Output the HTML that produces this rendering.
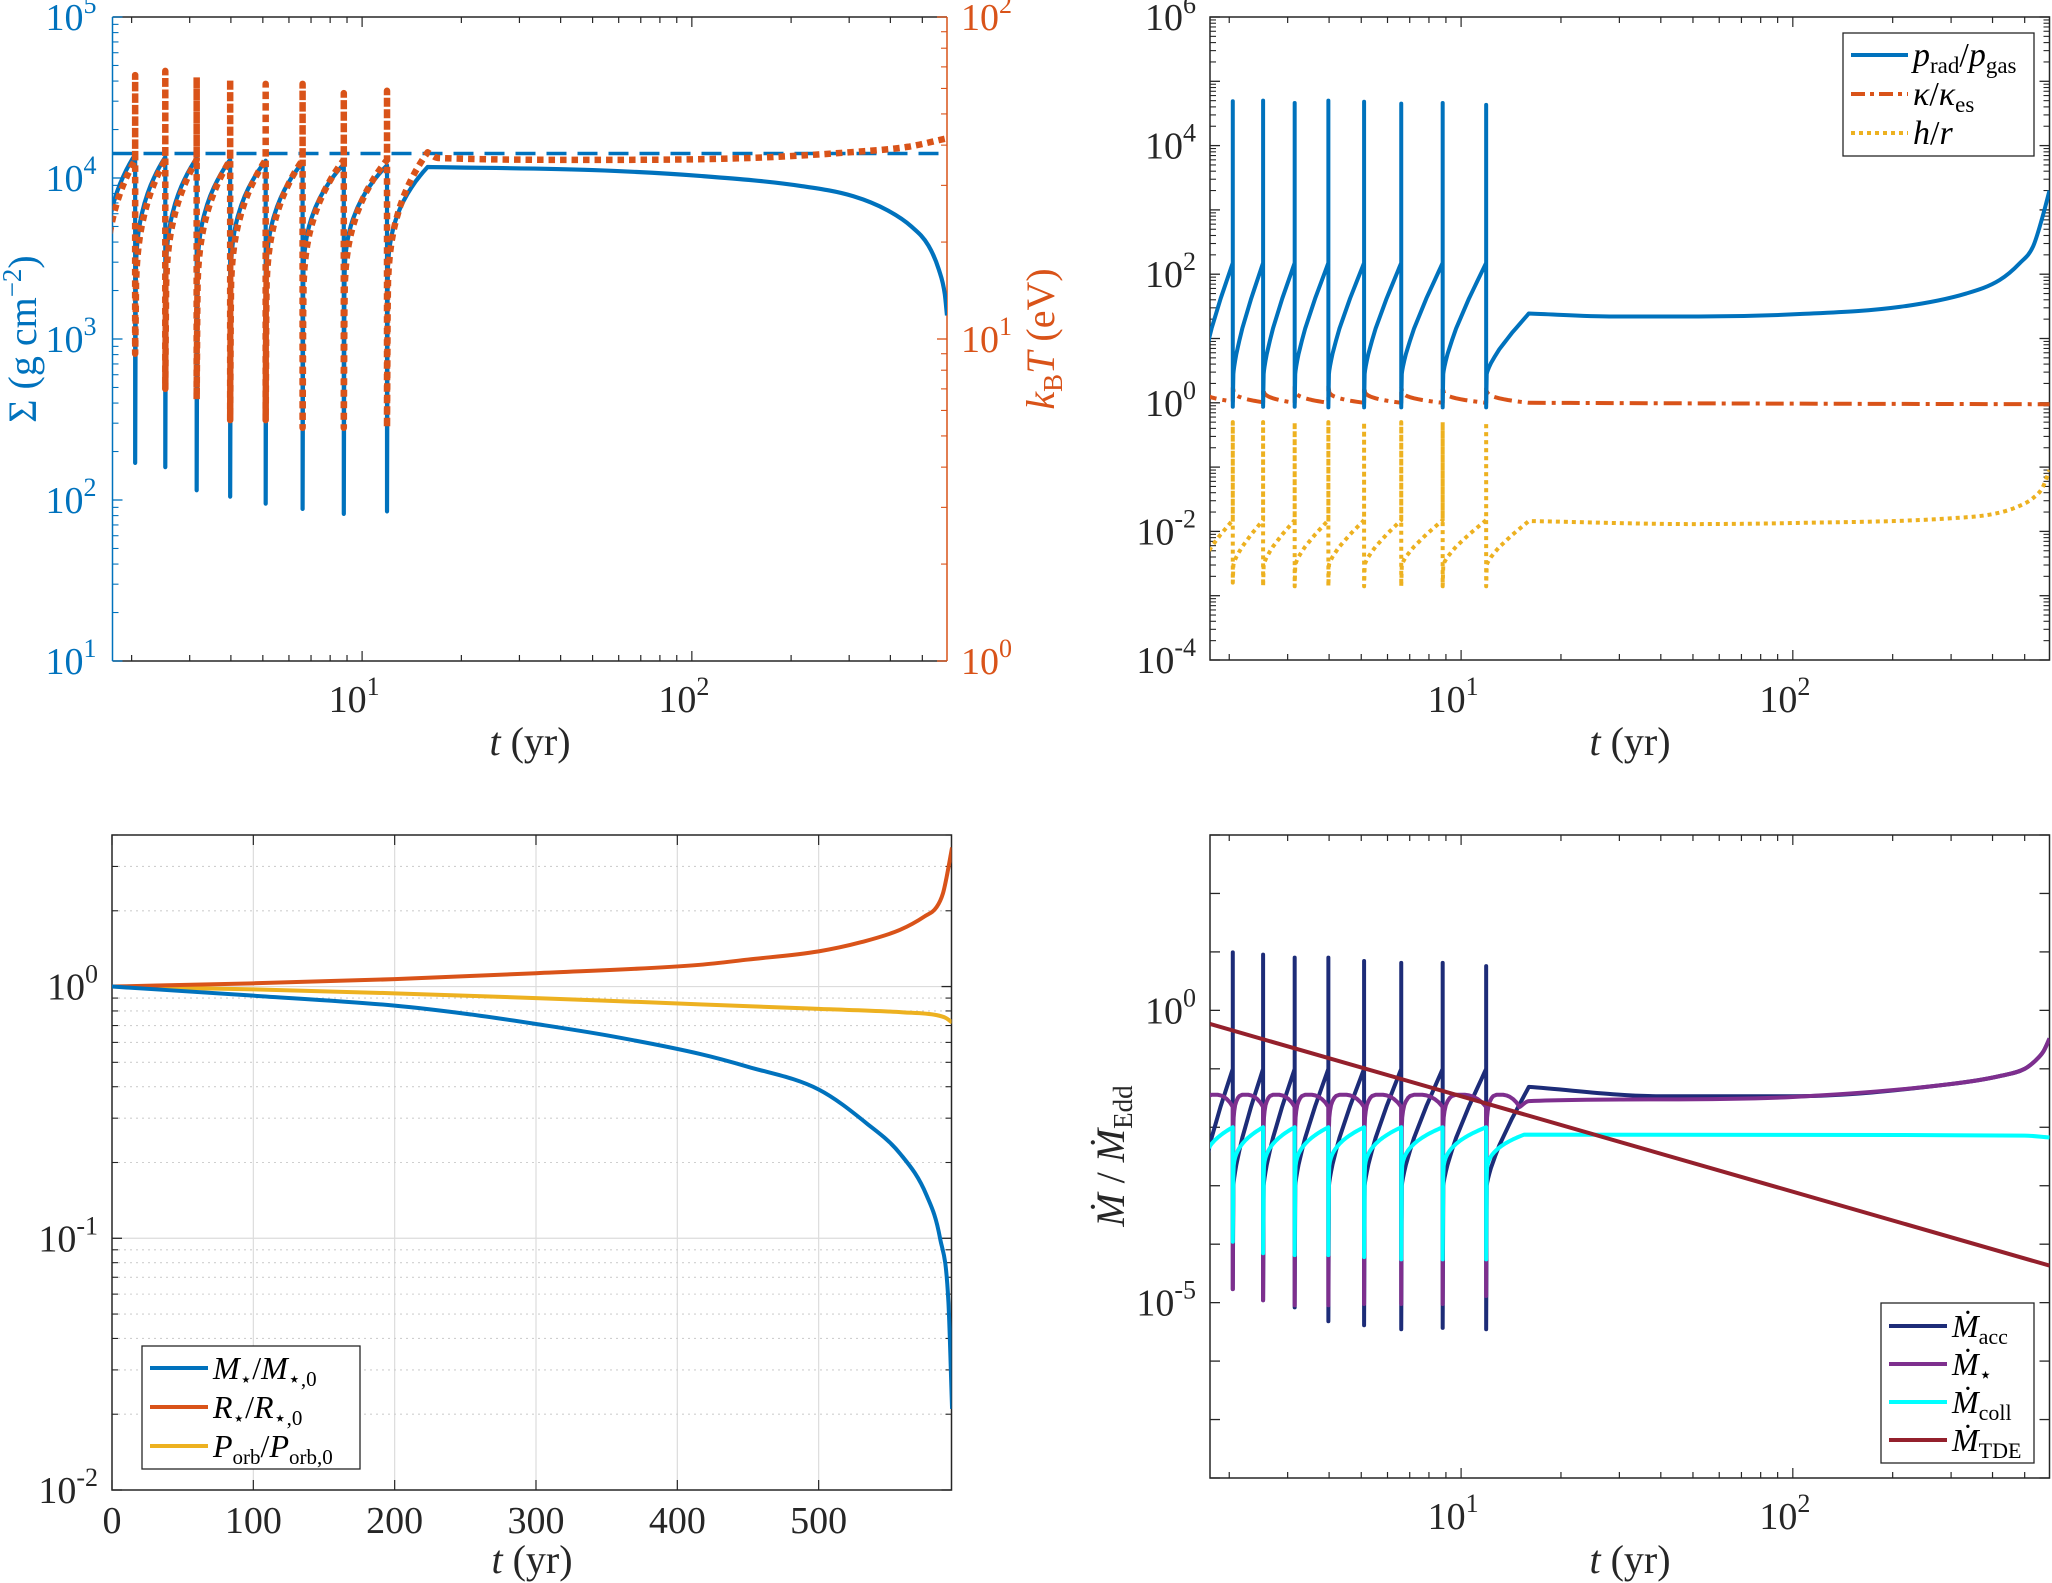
<!DOCTYPE html>
<html><head><meta charset="utf-8"><title>Disk and star evolution</title>
<style>
html,body{margin:0;padding:0;background:#fff;}
svg{display:block;font-family:"Liberation Serif","DejaVu Serif",serif;}
</style></head>
<body>
<svg id="chart" width="2052" height="1583" viewBox="0 0 2052 1583" xmlns="http://www.w3.org/2000/svg"></svg>
<script>
// ---------- data ----------
const spikeTimes = [2.05, 2.53, 3.15, 3.98, 5.1, 6.6, 8.8, 11.9];
const profU = [0,0.01,0.03,0.06,0.1,0.15,0.2,0.3,0.4,0.5,0.6,0.7,0.8,0.9,0.95,1];
const concaveF = [0,0.2,0.293,0.373,0.447,0.515,0.569,0.656,0.726,0.785,0.836,0.883,0.925,0.964,0.982,1];
const gradualF = [0,0.03,0.07,0.12,0.18,0.24,0.3,0.41,0.5,0.59,0.68,0.76,0.84,0.92,0.96,1];
const archF = [0,0.3,0.5,0.68,0.8,0.9,0.96,1,1,1,0.98,0.94,0.87,0.77,0.7,0.62];

// panel a: surface density and temperature
const sigmaLo = [2000,2000,2000,2000,2000,2000,2000,2000];
const sigmaHi = [14000,13500,13300,13000,12800,12500,12200,12000];
const sigmaMin = [170,160,115,105,95,88,82,85];
const sigmaTail = [[15.8,11700],[50,11200],[106,10300],[216,8900],[309,7700],[392,6300],[463,5000],[522,3800],[561,2700],[585,1900],[594,1400]];
const sigmaRef = [[1.75,14200],[594,14200]];
const tempLo = [12,12,12,12,12,12,12,12];
const tempHi = [36,36,36,36,36,36,36,36];
const tempSpike = [66,68,65,64,62,62,58,59];
const tempMin = [9.0,7.0,6.5,5.6,5.6,5.3,5.3,5.3];
const tempTail = [[15.8,38],[17,36.5],[50,36],[150,36.5],[300,38],[450,39.5],[594,42]];

// panel b: pressure ratio, opacity ratio, aspect ratio
const pradLo = [2.8,2.8,2.8,2.8,2.8,2.8,2.8,2.8];
const pradHi = [150,150,150,150,150,150,150,150];
const pradSpike = [49000,50000,46000,50000,48000,45000,46000,43000];
const pradMin = [0.87,0.87,0.87,0.85,0.85,0.85,0.85,0.85];
const pradTail = [[16,24.5],[29,22],[52,22],[105,24],[210,31],[333,50],[420,81],[483,148],[530,270],[566,780],[594,2000]];
const kapLo = [1.6,1.6,1.6,1.6,1.6,1.6,1.6,1.6];
const kapHi = [1.05,1.02,1.0,1.0,1.0,1.0,1.0,1.0];
const kapJump = [1.7,1.7,1.75,1.8,1.8,1.8,1.8,1.8];
const kapTail = [[16,1.0],[100,0.97],[600,0.95]];
const hrLo = [0.003,0.003,0.003,0.003,0.003,0.003,0.003,0.003];
const hrHi = [0.015,0.015,0.015,0.015,0.015,0.015,0.015,0.015];
const hrSpike = [0.5,0.5,0.5,0.5,0.5,0.5,0.5,0.5];
const hrMin = [0.0016,0.0014,0.0014,0.0014,0.0014,0.0014,0.0014,0.0014];
const hrTail = [[16,0.0145],[50,0.013],[100,0.0135],[300,0.016],[409,0.019],[483,0.025],[530,0.033],[566,0.048],[594,0.09]];

// panel c: stellar evolution (linear time)
const mT = [0,100,200,250,300,350,416,450,500,534,557.6,576.4,585.9,591.8,594.4];
const mV = [1,0.92,0.84,0.78,0.71,0.64,0.54,0.48,0.39,0.286,0.217,0.148,0.1,0.056,0.021];
const rT = [0,100,200,300,416,450,500,530,557.6,575,583.5,588,590.6,594.4];
const rV = [1,1.03,1.07,1.13,1.22,1.28,1.38,1.5,1.68,1.9,2.07,2.35,2.73,3.57];
const pT = [0,100,200,300,416,500,560,583.5,590,594.4];
const pV = [1,0.975,0.94,0.9,0.85,0.815,0.79,0.77,0.75,0.72];

// panel d: mass rates
const accLo = [0.001,0.001,0.001,0.001,0.001,0.001,0.001,0.001];
const accHi = [0.1,0.1,0.1,0.1,0.1,0.1,0.1,0.1];
const accSpike = [9.8,9,8,8,7,6.5,6.5,5.7];
const accMin = [1.7e-5,1.1e-5,8.3e-6,4.8e-6,4.1e-6,3.5e-6,3.7e-6,3.5e-6];
const accTail = [[16,0.049],[40,0.034],[100,0.034],[300,0.055],[420,0.075],[500,0.1],[540,0.14],[570,0.2],[594,0.33]];
const starLo = [0.01,0.01,0.01,0.01,0.01,0.01,0.01,0.01];
const starHi = [0.036,0.036,0.036,0.036,0.036,0.036,0.036,0.036];
const starMin = [1.7e-5,1.1e-5,9e-6,9e-6,9.5e-6,9.5e-6,9.5e-6,1.3e-5];
const starTail = [[15,0.036],[16,0.028],[40,0.03],[100,0.033],[300,0.055],[420,0.075],[500,0.1],[540,0.14],[570,0.2],[594,0.33]];
const collLo = [0.0015,0.0015,0.0015,0.0015,0.0015,0.0015,0.0015,0.0015];
const collHi = [0.01,0.01,0.01,0.01,0.01,0.01,0.01,0.01];
const collMin = [1.1e-4,7e-5,6.5e-5,6.5e-5,6e-5,5.5e-5,5.5e-5,5.5e-5];
const collTail = [[15.5,0.0075],[100,0.0074],[500,0.0072],[594,0.0067]];
const tdePts = [[1.75,0.585],[594,4.3e-5]];

// ---------- helpers ----------
const NS = 'http://www.w3.org/2000/svg';
const svg = document.getElementById('chart');
function mk(tag, attrs, parent){
  const e = document.createElementNS(NS, tag);
  for (const k in attrs) e.setAttribute(k, attrs[k]);
  (parent || svg).appendChild(e);
  return e;
}
const L = Math.log10;
function logScale(d0,d1,p0,p1){const a=L(d0),b=L(d1);return v=>p0+(L(v)-a)/(b-a)*(p1-p0);}
function linScale(d0,d1,p0,p1){return v=>p0+(v-d0)/(d1-d0)*(p1-p0);}

function buildCycle(lo, hi, spike, mins, prof, tail, loLast, hiLast){
  const pts = [];
  const T = spikeTimes, n = T.length;
  const tprev = T[0]*T[0]/T[1];
  function seg(a,b,l,h){
    for (let j=0;j<profU.length;j++){
      const t = a*Math.pow(b/a, profU[j]);
      pts.push([t, Math.pow(10, L(l)+(L(h)-L(l))*prof[j])]);
    }
  }
  for (let k=0;k<n;k++){
    const a = k===0 ? tprev : T[k-1]*1.004;
    seg(a, T[k], lo[k], hi[k]);
    if (spike) pts.push([T[k], spike[k]]);
    pts.push([T[k], mins[k]]);
  }
  seg(T[n-1]*1.004, tail[0][0], loLast, hiLast);
  const nCycle = pts.length;
  tail.slice(1).forEach(p=>pts.push(p));
  return {pts, nCycle};
}
// polyline up to smoothFrom, then monotone cubic (Fritsch-Carlson) through the rest
function pathD(pix, smoothFrom){
  let d = 'M'+pix[0][0].toFixed(2)+' '+pix[0][1].toFixed(2);
  const s0 = Math.max(0, Math.min(smoothFrom-1, pix.length-1));
  for (let i=1;i<=s0;i++) d += ' L'+pix[i][0].toFixed(2)+' '+pix[i][1].toFixed(2);
  const P = pix.slice(s0);
  const n = P.length;
  if (n < 2) return d;
  const dl = [], m = [];
  for (let i=0;i<n-1;i++){ const h=P[i+1][0]-P[i][0]; dl.push(h>0?(P[i+1][1]-P[i][1])/h:0); }
  m[0]=dl[0]; m[n-1]=dl[n-2];
  for (let i=1;i<n-1;i++){ m[i] = (dl[i-1]*dl[i]<=0)?0:(dl[i-1]+dl[i])/2; }
  for (let i=0;i<n-1;i++){
    if (dl[i]===0){ m[i]=0; m[i+1]=0; continue; }
    const a=m[i]/dl[i], b=m[i+1]/dl[i], s=a*a+b*b;
    if (s>9){ const t=3/Math.sqrt(s); m[i]=t*a*dl[i]; m[i+1]=t*b*dl[i]; }
  }
  for (let i=0;i<n-1;i++){
    const h=(P[i+1][0]-P[i][0])/3;
    d += ' C'+(P[i][0]+h).toFixed(2)+' '+(P[i][1]+m[i]*h).toFixed(2)+' '+(P[i+1][0]-h).toFixed(2)+' '+(P[i+1][1]-m[i+1]*h).toFixed(2)+' '+P[i+1][0].toFixed(2)+' '+P[i+1][1].toFixed(2);
  }
  return d;
}
function clipFor(id, x0,y0,x1,y1){
  const cp = mk('clipPath',{id:id});
  mk('rect',{x:x0,y:y0,width:x1-x0,height:y1-y0},cp);
}
function drawSeries(g, pts, smoothFrom, sx, sy, style, clip, name){
  const pix = pts.map(p=>[sx(p[0]), sy(p[1])]);
  const el = mk('path', Object.assign({d:pathD(pix, smoothFrom), fill:'none', 'clip-path':'url(#'+clip+')', 'stroke-linejoin':'round'}, style), g);
  
  
  return el;
}
function expText(g, x, y, base, exp, anchor, color, size, name){
  const t = mk('text',{x:x, y:y, 'text-anchor':anchor, fill:color, 'font-size':size}, g);
  
  
  t.appendChild(document.createTextNode(base));
  const s = mk('tspan',{dy:-17, 'font-size':Math.round(size*0.68)}, t);
  s.textContent = exp;
  return t;
}
function logTicksY(g, sy, dmin, dmax, x0, x1, color, minors, labelFn){
  for (let k=dmin;k<=dmax;k++){
    const base = Math.pow(10,k);
    const y = sy(base);
    mk('line',{x1:x0,y1:y,x2:x0+10,y2:y,stroke:color,'stroke-width':1.3},g);
    mk('line',{x1:x1,y1:y,x2:x1-10,y2:y,stroke:color,'stroke-width':1.3},g);
    if (minors && k<dmax){
      for (let m=2;m<=9;m++){
        const ym = sy(m*base);
        mk('line',{x1:x0,y1:ym,x2:x0+6,y2:ym,stroke:color,'stroke-width':1.1},g);
        mk('line',{x1:x1,y1:ym,x2:x1-6,y2:ym,stroke:color,'stroke-width':1.1},g);
      }
    }
    if (labelFn) labelFn(k, y);
  }
}
function logTicksX(g, sx, x0, x1, y0, y1, tmin, tmax){
  for (let k=0;k<=2;k++){
    for (let m=1;m<=9;m++){
      const v = m*Math.pow(10,k);
      if (v < tmin || v > tmax) continue;
      const x = sx(v);
      const len = m===1 ? 10 : 6;
      mk('line',{x1:x,y1:y1,x2:x,y2:y1-len,stroke:'#262626','stroke-width':1.2},g);
      mk('line',{x1:x,y1:y0,x2:x,y2:y0+len,stroke:'#262626','stroke-width':1.2},g);
    }
  }
}
function xLabel(g, x, y, name){
  const t = mk('text',{x:x,y:y,'text-anchor':'middle','font-size':40,fill:'#262626'},g);
  
  
  const a = mk('tspan',{'font-style':'italic'},t); a.textContent='t';
  const b = mk('tspan',{},t); b.textContent=' (yr)';
}

const TMIN = 1.75, TMAX = 594;
const BLUE='#0072BD', ORANGE='#D95319', YELLOW='#EDB120', NAVY='#1d2c78', PURPLE='#7E2F8E', CYAN='#00FFFF', MAROON='#94202c';

// ================= Panel A =================
(function(){
  const x0=112.5, x1=947, y0=17, y1=661;
  const g = mk('g',{});
  
  
  clipFor('clipA',x0,y0,x1,y1);
  const sx = logScale(TMIN,TMAX,x0,x1);
  const syL = logScale(10,1e5,y1,y0);
  const syR = logScale(1,100,y1,y0);
  mk('line',{x1:x0,y1:y0,x2:x1,y2:y0,stroke:'#262626','stroke-width':1.5},g);
  mk('line',{x1:x0,y1:y1,x2:x1,y2:y1,stroke:'#262626','stroke-width':1.5},g);
  const la = mk('line',{x1:x0,y1:y0,x2:x0,y2:y1,stroke:BLUE,'stroke-width':1.5},g);
  
  
  const ra = mk('line',{x1:x1,y1:y0,x2:x1,y2:y1,stroke:ORANGE,'stroke-width':1.5},g);
  
  
  logTicksX(g, sx, x0, x1, y0, y1, TMIN, TMAX);
  for (let k=1;k<=5;k++){
    const y=syL(Math.pow(10,k));
    mk('line',{x1:x0,y1:y,x2:x0+10,y2:y,stroke:BLUE,'stroke-width':1.3},g);
    if (k<5) for (let m=2;m<=9;m++){const ym=syL(m*Math.pow(10,k));mk('line',{x1:x0,y1:ym,x2:x0+6,y2:ym,stroke:BLUE,'stroke-width':1.1},g);}
    expText(g, x0-16, y+13, '10', String(k), 'end', BLUE, 38, 'left-tick-label');
  }
  for (let k=0;k<=2;k++){
    const y=syR(Math.pow(10,k));
    mk('line',{x1:x1,y1:y,x2:x1-10,y2:y,stroke:ORANGE,'stroke-width':1.3},g);
    if (k<2) for (let m=2;m<=9;m++){const ym=syR(m*Math.pow(10,k));mk('line',{x1:x1,y1:ym,x2:x1-6,y2:ym,stroke:ORANGE,'stroke-width':1.1},g);}
    expText(g, x1+14, y+13, '10', String(k), 'start', ORANGE, 38, 'right-tick-label');
  }
  [1,2].forEach(k=>{ expText(g, sx(Math.pow(10,k))-8, 712, '10', String(k), 'middle', '#262626', 38, 'x-tick-label'); });
  xLabel(g, 530, 755, 'x-axis-title');
  const yl = mk('text',{x:0,y:0,'text-anchor':'middle','font-size':40,fill:BLUE,transform:'translate(36,339) rotate(-90)'},g);
  
  
  yl.appendChild(document.createTextNode('Σ (g cm'));
  const ys = mk('tspan',{dy:-15,'font-size':27},yl); ys.textContent='−2';
  const ye = mk('tspan',{dy:15},yl); ye.textContent=')';
  const yr = mk('text',{x:0,y:0,'text-anchor':'middle','font-size':40,fill:ORANGE,transform:'translate(1054,339) rotate(-90)'},g);
  
  
  const k1 = mk('tspan',{'font-style':'italic'},yr); k1.textContent='k';
  const k2 = mk('tspan',{dy:8,'font-size':27},yr); k2.textContent='B';
  const k3 = mk('tspan',{dy:-8,'font-style':'italic'},yr); k3.textContent='T';
  const k4 = mk('tspan',{},yr); k4.textContent=' (eV)';
  drawSeries(g, sigmaRef, 99, sx, syL, {stroke:BLUE,'stroke-width':3.5,'stroke-dasharray':'20 11'}, 'clipA', 'sigma-reference-line');
  const s = buildCycle(sigmaLo, sigmaHi, null, sigmaMin, concaveF, sigmaTail, 2000, 11700);
  drawSeries(g, s.pts, s.nCycle, sx, syL, {stroke:BLUE,'stroke-width':4.2}, 'clipA', 'sigma-line');
  const tt = buildCycle(tempLo, tempHi, tempSpike, tempMin, concaveF, tempTail, 12, 38);
  drawSeries(g, tt.pts, tt.nCycle, sx, syR, {stroke:ORANGE,'stroke-width':6.5,'stroke-dasharray':'6.5 5'}, 'clipA', 'temperature-line');
})();

// ================= Panel B =================
(function(){
  const x0=1210, x1=2049.5, y0=17, y1=660;
  const g = mk('g',{});
  
  
  clipFor('clipB',x0,y0,x1,y1);
  const sx = logScale(TMIN,TMAX,x0,x1);
  const sy = logScale(1e-4,1e6,y1,y0);
  mk('rect',{x:x0,y:y0,width:x1-x0,height:y1-y0,fill:'none',stroke:'#262626','stroke-width':1.5},g);
  logTicksX(g, sx, x0, x1, y0, y1, TMIN, TMAX);
  logTicksY(g, sy, -4, 6, x0, x1, '#262626', true, (k,y)=>{
    if (k%2===0) expText(g, x0-14, y+13, '10', String(k), 'end', '#262626', 38, 'y-tick-label');
  });
  [1,2].forEach(k=>{ expText(g, sx(Math.pow(10,k))-8, 712, '10', String(k), 'middle', '#262626', 38, 'x-tick-label'); });
  xLabel(g, 1630, 755, 'x-axis-title');
  const hr = buildCycle(hrLo, hrHi, hrSpike, hrMin, gradualF, hrTail, 0.003, 0.0145);
  drawSeries(g, hr.pts, hr.nCycle, sx, sy, {stroke:YELLOW,'stroke-width':4,'stroke-dasharray':'4 4'}, 'clipB', 'aspect-ratio-line');
  const kp = buildCycle(kapLo, kapHi, null, kapJump, concaveF, kapTail, 1.6, 1.0);
  drawSeries(g, kp.pts, kp.nCycle, sx, sy, {stroke:ORANGE,'stroke-width':4,'stroke-dasharray':'18 6 4 6'}, 'clipB', 'opacity-ratio-line');
  const pr = buildCycle(pradLo, pradHi, pradSpike, pradMin, gradualF, pradTail, 2.8, 24.5);
  drawSeries(g, pr.pts, pr.nCycle, sx, sy, {stroke:BLUE,'stroke-width':4}, 'clipB', 'pressure-ratio-line');
  const lg = mk('g',{}, g);
  
  
  mk('rect',{x:1843,y:33,width:191,height:123,fill:'#fff',stroke:'#262626','stroke-width':1.3},lg);
  const rows = [[55,BLUE,'none',4],[94,ORANGE,'14 5 4 5',4],[133,YELLOW,'4 4',4]];
  rows.forEach(r=>{ mk('line',{x1:1851,y1:r[0],x2:1908,y2:r[0],stroke:r[1],'stroke-width':r[3],'stroke-dasharray':r[2]},lg); });
  const t1 = mk('text',{x:1913,y:66,'font-size':34,fill:'#000'},lg);
  
  
  t1.innerHTML = '<tspan font-style="italic">p</tspan><tspan font-size="23" dy="7">rad</tspan><tspan dy="-7">/</tspan><tspan font-style="italic">p</tspan><tspan font-size="23" dy="7">gas</tspan>';
  const t2 = mk('text',{x:1913,y:105,'font-size':34,fill:'#000'},lg);
  
  
  t2.innerHTML = '<tspan font-style="italic">κ</tspan>/<tspan font-style="italic">κ</tspan><tspan font-size="23" dy="7">es</tspan>';
  const t3 = mk('text',{x:1913,y:144,'font-size':34,fill:'#000'},lg);
  
  
  t3.innerHTML = '<tspan font-style="italic">h</tspan>/<tspan font-style="italic">r</tspan>';
})();

// ================= Panel C =================
(function(){
  const x0=112, x1=951.5, y0=835, y1=1490;
  const g = mk('g',{});
  
  
  clipFor('clipC',x0,y0,x1,y1);
  const sx = linScale(0,594,x0,x1);
  const sy = logScale(0.01,4,y1,y0);
  for (let v=100; v<=500; v+=100) mk('line',{x1:sx(v),y1:y0,x2:sx(v),y2:y1,stroke:'#dcdcdc','stroke-width':1.2},g);
  for (let k=-2;k<=0;k++){
    const base=Math.pow(10,k);
    if (k>-2) mk('line',{x1:x0,y1:sy(base),x2:x1,y2:sy(base),stroke:'#dcdcdc','stroke-width':1.2},g);
    for (let m=2;m<=9;m++){ const v=m*base; if (v>4) break; mk('line',{x1:x0,y1:sy(v),x2:x1,y2:sy(v),stroke:'#cfcfcf','stroke-width':1.1,'stroke-dasharray':'2 4'},g); }
  }
  mk('rect',{x:x0,y:y0,width:x1-x0,height:y1-y0,fill:'none',stroke:'#262626','stroke-width':1.5},g);
  for (let v=0; v<=500; v+=100){
    const x=sx(v);
    mk('line',{x1:x,y1:y1,x2:x,y2:y1-10,stroke:'#262626','stroke-width':1.2},g);
    mk('line',{x1:x,y1:y0,x2:x,y2:y0+10,stroke:'#262626','stroke-width':1.2},g);
    const t = mk('text',{x:x,y:1533,'text-anchor':'middle','font-size':38,fill:'#262626'},g);
    
    
    t.textContent = String(v);
  }
  for (let k=-2;k<=0;k++){
    const base=Math.pow(10,k), y=sy(base);
    mk('line',{x1:x0,y1:y,x2:x0+10,y2:y,stroke:'#262626','stroke-width':1.3},g);
    mk('line',{x1:x1,y1:y,x2:x1-10,y2:y,stroke:'#262626','stroke-width':1.3},g);
    for (let m=2;m<=9;m++){ const v=m*base; if (v>4) break; const ym=sy(v);
      mk('line',{x1:x0,y1:ym,x2:x0+6,y2:ym,stroke:'#262626','stroke-width':1.1},g);
      mk('line',{x1:x1,y1:ym,x2:x1-6,y2:ym,stroke:'#262626','stroke-width':1.1},g); }
    expText(g, x0-14, y+13, '10', String(k), 'end', '#262626', 38, 'y-tick-label');
  }
  xLabel(g, 532, 1573, 'x-axis-title');
  drawSeries(g, pT.map((t,i)=>[t,pV[i]]), 1, sx, sy, {stroke:YELLOW,'stroke-width':4}, 'clipC', 'orbital-period-line');
  drawSeries(g, rT.map((t,i)=>[t,rV[i]]), 1, sx, sy, {stroke:ORANGE,'stroke-width':4}, 'clipC', 'stellar-radius-line');
  drawSeries(g, mT.map((t,i)=>[t,mV[i]]), 1, sx, sy, {stroke:BLUE,'stroke-width':4}, 'clipC', 'stellar-mass-line');
  const lg = mk('g',{}, g);
  
  
  mk('rect',{x:142,y:1346,width:218,height:123,fill:'#fff',stroke:'#262626','stroke-width':1.3},lg);
  [[1368,BLUE],[1407,ORANGE],[1446,YELLOW]].forEach(r=>mk('line',{x1:150,y1:r[0],x2:208,y2:r[0],stroke:r[1],'stroke-width':4},lg));
  const e1 = mk('text',{x:213,y:1379,'font-size':32,fill:'#000'},lg);
  
  
  e1.innerHTML = '<tspan font-style="italic">M</tspan><tspan font-size="20" dy="7">⋆</tspan><tspan dy="-7">/</tspan><tspan font-style="italic">M</tspan><tspan font-size="21" dy="7">⋆,0</tspan>';
  const e2 = mk('text',{x:213,y:1418,'font-size':32,fill:'#000'},lg);
  
  
  e2.innerHTML = '<tspan font-style="italic">R</tspan><tspan font-size="20" dy="7">⋆</tspan><tspan dy="-7">/</tspan><tspan font-style="italic">R</tspan><tspan font-size="21" dy="7">⋆,0</tspan>';
  const e3 = mk('text',{x:213,y:1457,'font-size':32,fill:'#000'},lg);
  
  
  e3.innerHTML = '<tspan font-style="italic">P</tspan><tspan font-size="21" dy="7">orb</tspan><tspan dy="-7">/</tspan><tspan font-style="italic">P</tspan><tspan font-size="21" dy="7">orb,0</tspan>';
})();

// ================= Panel D =================
(function(){
  const x0=1210, x1=2049.5, y0=835, y1=1478;
  const g = mk('g',{});
  
  
  clipFor('clipD',x0,y0,x1,y1);
  const sx = logScale(TMIN,TMAX,x0,x1);
  const sy = logScale(1e-8,1e3,y1,y0);
  mk('rect',{x:x0,y:y0,width:x1-x0,height:y1-y0,fill:'none',stroke:'#262626','stroke-width':1.5},g);
  logTicksX(g, sx, x0, x1, y0, y1, TMIN, TMAX);
  logTicksY(g, sy, -8, 3, x0, x1, '#262626', false, (k,y)=>{
    if (k===0 || k===-5) expText(g, x0-14, y+13, '10', String(k), 'end', '#262626', 38, 'y-tick-label');
  });
  [1,2].forEach(k=>{ expText(g, sx(Math.pow(10,k))-8, 1529, '10', String(k), 'middle', '#262626', 38, 'x-tick-label'); });
  xLabel(g, 1630, 1573, 'x-axis-title');
  const yl = mk('text',{x:0,y:0,'text-anchor':'middle','font-size':40,fill:'#262626',transform:'translate(1124,1156) rotate(-90)'},g);
  
  
  yl.innerHTML = '<tspan font-style="italic">Ṁ</tspan> / <tspan font-style="italic">Ṁ</tspan><tspan font-size="27" dy="8">Edd</tspan>';
  const acc = buildCycle(accLo, accHi, accSpike, accMin, gradualF, accTail, 0.001, 0.049);
  drawSeries(g, acc.pts, acc.nCycle, sx, sy, {stroke:NAVY,'stroke-width':4}, 'clipD', 'accretion-rate-line');
  const st = buildCycle(starLo, starHi, null, starMin, archF, starTail, 0.01, 0.036);
  drawSeries(g, st.pts, st.nCycle, sx, sy, {stroke:PURPLE,'stroke-width':4}, 'clipD', 'stellar-mass-loss-line');
  const co = buildCycle(collLo, collHi, null, collMin, concaveF, collTail, 0.0015, 0.0075);
  drawSeries(g, co.pts, co.nCycle, sx, sy, {stroke:CYAN,'stroke-width':4}, 'clipD', 'collision-rate-line');
  drawSeries(g, tdePts, 99, sx, sy, {stroke:MAROON,'stroke-width':4}, 'clipD', 'tde-rate-line');
  const lg = mk('g',{}, g);
  
  
  mk('rect',{x:1881,y:1303,width:153,height:160,fill:'#fff',stroke:'#262626','stroke-width':1.3},lg);
  const rows=[[1326,NAVY,'acc','legend-entry-acc'],[1364,PURPLE,'⋆','legend-entry-star'],[1402,CYAN,'coll','legend-entry-coll'],[1440,MAROON,'TDE','legend-entry-tde']];
  rows.forEach(r=>{
    mk('line',{x1:1889,y1:r[0],x2:1947,y2:r[0],stroke:r[1],'stroke-width':4},lg);
    const t = mk('text',{x:1952,y:r[0]+11,'font-size':32,fill:'#000'},lg);
    
    
    t.innerHTML = '<tspan font-style="italic">Ṁ</tspan><tspan font-size="22" dy="7">'+r[2]+'</tspan>';
  });
})();
</script>
</body></html>
